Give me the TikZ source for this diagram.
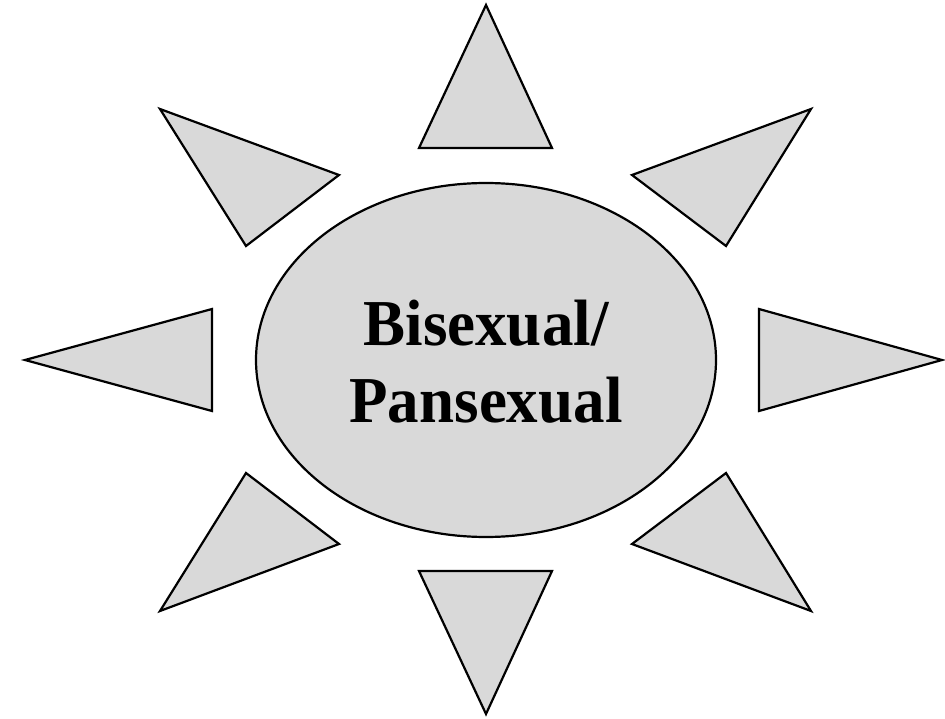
\documentclass[tikz,border=0pt]{standalone}
\usepackage{fontspec}
\setmainfont{Liberation Serif}
\usetikzlibrary{shapes.geometric}
\definecolor{sungray}{HTML}{D9D9D9}
\newcommand{\tallword}[1]{\scalebox{1}[1.04]{#1}}
\begin{document}
\begin{tikzpicture}
  [x=1pt,y=-1pt,ray/.style={draw,fill=sungray,line width=2.2pt,line join=miter},
   word/.style={anchor=base,inner sep=0pt,font=\bfseries\fontsize{63}{70}\selectfont}]
\useasboundingbox (0,0) rectangle (945,719);
  \node (core) at (486,360) [ellipse,draw,fill=sungray,line width=2.2pt,
    minimum width=460pt,minimum height=354pt,inner sep=0pt] {};
  \node (bi) at (486,345) [word] {\tallword{Bisexual/}};
  \node (pan) at (486,422) [word] {\tallword{Pansexual}};

  \foreach \ax/\ay/\bx/\by/\cx/\cy in {486/5/419/148/552/148, 486/714/419/571/552/571,
      25/360/212/309/212/411, 942/360/759/309/759/411,
      160/109/339/175/246/246, 811/109/632/175/726/246,
      160/611/339/544/246/473, 811/611/632/544/726/473}
    \draw[ray] (\ax,\ay) -- (\bx,\by) -- (\cx,\cy) -- cycle;
\end{tikzpicture}
\end{document}
